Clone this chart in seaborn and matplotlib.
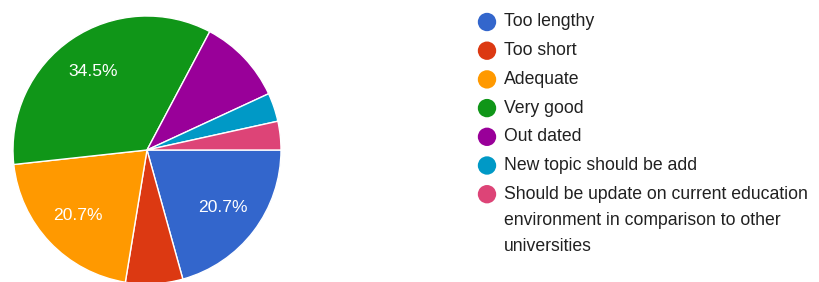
import matplotlib.pyplot as plt
import seaborn as sns

categories = ["Too lengthy", "Too short", "Adequate", "Very good", "Out dated",
              "New topic should be add",
              "Should be update on current education\nenvironment in comparison to other\nuniversities"]
counts = [6, 2, 6, 10, 3, 1, 1]
colors = ["#3366cc", "#dc3912", "#ff9900", "#109618", "#990099", "#0099c6", "#dd4477"]

sns.set_style("white")
plt.rcParams['font.family'] = ['Liberation Sans', 'DejaVu Sans']

W, H = 819, 282
fig = plt.figure(figsize=(W / 100, H / 100), dpi=100)
ax = fig.add_axes([13 / W, -2 / H, 268 / W, 268 / H])

def fmt(p):
    # only the big slices get a label, like the google forms chart
    return f"{p:.1f}%" if p > 15 else ""

ax.pie(counts, colors=sns.color_palette(colors), startangle=0, counterclock=False,
       radius=1, autopct=fmt, pctdistance=0.71,
       wedgeprops=dict(edgecolor="white", linewidth=1),
       textprops=dict(color="white", fontsize=12.6))
ax.set_xlim(-1, 1)
ax.set_ylim(-1, 1)
ax.set_aspect("equal")
ax.axis("off")

# legend drawn by hand in pixel coords
lax = fig.add_axes([0, 0, 1, 1])
row_y = [22 + 28.7 * i for i in range(len(categories))]
sns.scatterplot(x=[487] * len(categories), y=row_y, hue=categories,
                palette=colors, s=175, linewidth=0, legend=False, ax=lax)
lax.set_xlim(0, W)
lax.set_ylim(H, 0)
lax.axis("off")
for y, lab in zip(row_y, categories):
    for j, line in enumerate(lab.split("\n")):
        lax.text(504, y + 26 * j, line, fontsize=12.7, color="#212121",
                 va="center")

fig.savefig("out.png", dpi=100)
